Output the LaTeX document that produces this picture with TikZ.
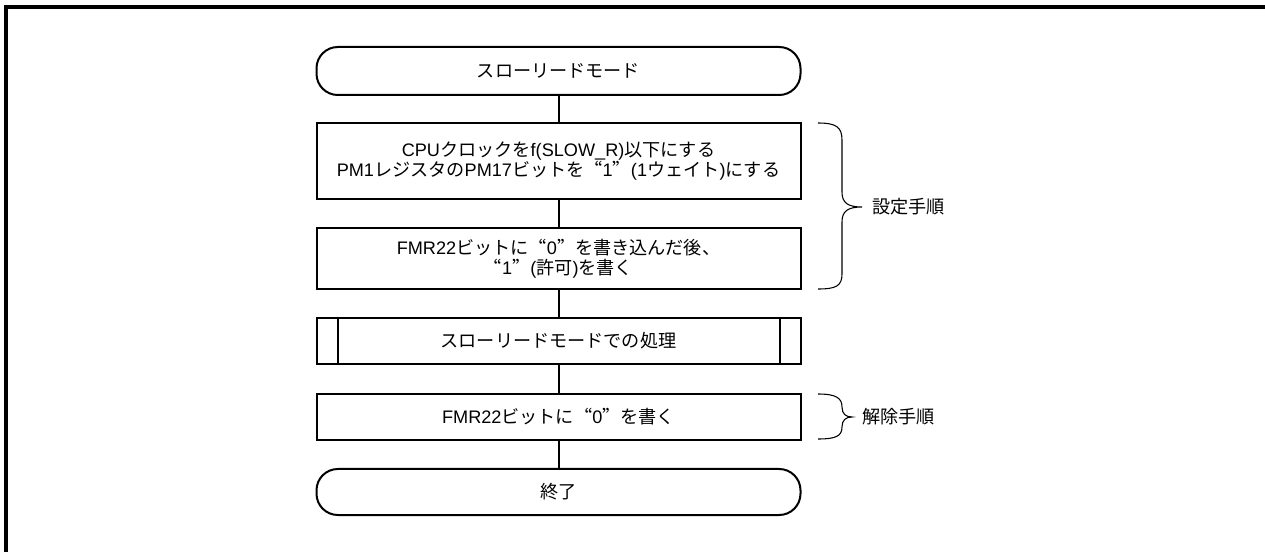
\documentclass[tikz,border=0pt]{standalone}
\usepackage{fontspec}
\setmainfont{Liberation Sans}
\newfontfamily\jp{Noto Sans CJK JP}
\newfontfamily\jpq{Noto Sans CJK JP}[RawFeature=+fwid]
\newcommand\J[1]{{\jp #1}}
\newcommand\Q[1]{{\jpq #1}}
\tikzset{
  box/.style={draw, line width=1.5pt, rectangle, minimum width=363pt, align=center,
    font=\fontsize{13.6pt}{15.2pt}\selectfont, inner sep=0pt},
  term/.style={box, rounded corners=16pt},
  conn/.style={line width=1.5pt},
  brace/.style={line width=0.8pt},
  lab/.style={anchor=west, inner sep=0pt, font=\fontsize{13.6pt}{15.2pt}\selectfont},
}
\begin{document}
\begin{tikzpicture}[x=0.75pt,y=-0.75pt]
\useasboundingbox (0,0) rectangle (1265,552);
\draw[line width=2.3pt, line join=miter] (6,552) -- (6,7) -- (1265,7);

\node[term, minimum height=36pt] (start) at (558.5,71) {\J{スローリードモード}};
\node[box, minimum height=57pt] (b1) at (558.5,161)
  {CPU\J{クロックを}f(SLOW\_R)\J{以下にする}\\
   PM1\J{レジスタの}PM17\J{ビットを}\Q{“}1\Q{”}(1\J{ウェイト})\J{にする}};
\node[box, minimum height=45.75pt] (b2) at (558.5,258.5)
  {FMR22\J{ビットに}\Q{“}0\Q{”}\J{を書き込んだ後、}\\
   \Q{“}1\Q{”}(\J{許可})\J{を書く}};
\node[box, minimum height=34.5pt] (b3) at (558.5,341) {\J{スローリードモードでの処理}};
\draw[conn] ([xshift=16.5pt]b3.north west) -- ([xshift=16.5pt]b3.south west);
\draw[conn] ([xshift=-16.5pt]b3.north east) -- ([xshift=-16.5pt]b3.south east);
\node[box, minimum height=34.5pt] (b4) at (558.5,417) {FMR22\J{ビットに}\Q{“}0\Q{”}\J{を書く}};
\node[term, minimum height=34.5pt] (end) at (558.5,492) {\J{終了}};

\draw[conn] (start) -- (b1);
\draw[conn] (b1) -- (b2);
\draw[conn] (b2) -- (b3);
\draw[conn] (b3) -- (b4);
\draw[conn] (b4) -- (end);

\draw[brace] (818,123) .. controls (836,123) and (842,127) .. (842,140) -- (842,192)
  .. controls (842,203) and (848,207) .. (862,207)
  .. controls (848,207) and (842,211) .. (842,222) -- (842,274)
  .. controls (842,286) and (836,289) .. (818,289);
\node[lab] (l1) at (872,207) {\J{設定手順}};

\draw[brace] (818,394) .. controls (836,394) and (842,398) .. (842,407)
  .. controls (842,414) and (846,417) .. (852,417)
  .. controls (846,417) and (842,420) .. (842,427)
  .. controls (842,436) and (836,439) .. (818,439);
\node[lab] (l2) at (862,417) {\J{解除手順}};
\end{tikzpicture}
\end{document}
